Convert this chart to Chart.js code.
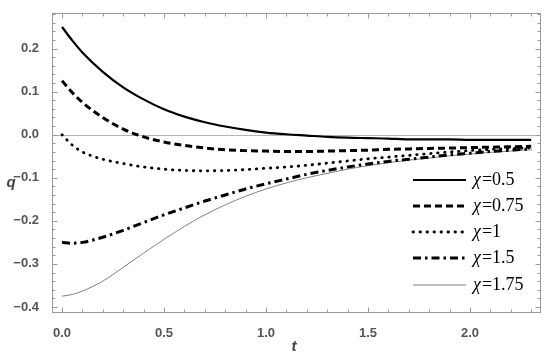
<!DOCTYPE html>
<html>
<head>
<meta charset="utf-8">
<script src="https://cdn.jsdelivr.net/npm/chart.js@4.4.1/dist/chart.umd.min.js"></script>
<style>
  html, body { margin: 0; padding: 0; background: #fff; }
</style>
</head>
<body>
<canvas id="chart" width="550" height="357"></canvas>
<script>
// values
const tValues = [0, 0.05, 0.1, 0.2, 0.3, 0.4, 0.5, 0.6, 0.7, 0.8, 0.9, 1.0, 1.1, 1.2, 1.3, 1.4, 1.5, 1.6, 1.7, 1.8, 1.9, 2.0, 2.1, 2.2, 2.3];
const qChi05  = [0.250, 0.219, 0.191, 0.146, 0.110, 0.082, 0.059, 0.042, 0.029, 0.019, 0.011, 0.005, 0.001, -0.002, -0.005, -0.007, -0.008, -0.009, -0.011, -0.011, -0.011, -0.012, -0.012, -0.012, -0.012];
const qChi075 = [0.125, 0.098, 0.075, 0.040, 0.013, -0.005, -0.017, -0.025, -0.031, -0.035, -0.037, -0.038, -0.039, -0.039, -0.038, -0.037, -0.036, -0.034, -0.033, -0.032, -0.031, -0.030, -0.029, -0.028, -0.027];
const qChi1   = [0.000, -0.024, -0.040, -0.057, -0.067, -0.075, -0.080, -0.083, -0.084, -0.083, -0.081, -0.078, -0.075, -0.071, -0.066, -0.061, -0.056, -0.052, -0.048, -0.044, -0.040, -0.037, -0.034, -0.032, -0.030];
const qChi15  = [-0.250, -0.252, -0.250, -0.238, -0.222, -0.204, -0.186, -0.170, -0.154, -0.140, -0.126, -0.114, -0.103, -0.092, -0.083, -0.075, -0.068, -0.062, -0.057, -0.052, -0.047, -0.043, -0.039, -0.036, -0.033];
const qChi175 = [-0.375, -0.371, -0.363, -0.340, -0.308, -0.275, -0.243, -0.213, -0.186, -0.163, -0.143, -0.126, -0.112, -0.100, -0.090, -0.080, -0.072, -0.065, -0.059, -0.054, -0.049, -0.045, -0.041, -0.038, -0.035];

const chiLabels = ['0.5', '0.75', '1', '1.5', '1.75'];
const xTicks = [0, 0.5, 1, 1.5, 2];
const yTicks = [-0.4, -0.3, -0.2, -0.1, 0, 0.1, 0.2];

const allSeries = [qChi05, qChi075, qChi1, qChi15, qChi175];
const lineStyles = [
    { color: '#000', width: 2.2, dash: [], cap: 'butt' },
    { color: '#000', width: 3, dash: [7, 4], cap: 'butt' },
    { color: '#000', width: 2.8, dash: [0.5, 6.5], cap: 'round' },
    { color: '#000', width: 3, dash: [8, 4, 2.5, 4], cap: 'butt' },
    { color: '#808080', width: 1, dash: [], cap: 'butt' }
];

const datasets = allSeries.map((values, i) => ({
    label: '\u03c7=' + chiLabels[i],
    data: values.map((q, k) => ({ x: tValues[k], y: q })),
    borderColor: lineStyles[i].color,
    borderWidth: lineStyles[i].width,
    borderDash: lineStyles[i].dash,
    borderCapStyle: lineStyles[i].cap,
    pointRadius: 0,
    cubicInterpolationMode: 'monotone',
    fill: false
}));

const frameColor = '#9a9a9a';
const tickFont = { family: 'Liberation Sans', size: 13, weight: 'bold' };

// zero line, frame and the inward ticks on all four sides
const framePlugin = {
    id: 'frame',
    beforeDatasetsDraw(chart) {
        const { ctx, chartArea: a, scales: { y } } = chart;
        const y0 = Math.round(y.getPixelForValue(0)) + 0.5;
        ctx.save();
        ctx.strokeStyle = '#b4b4b4';
        ctx.lineWidth = 1;
        ctx.beginPath();
        ctx.moveTo(a.left, y0);
        ctx.lineTo(a.right, y0);
        ctx.stroke();
        ctx.restore();
    },
    afterDatasetsDraw(chart) {
        const { ctx, chartArea: a, scales: { x, y } } = chart;
        ctx.save();
        ctx.strokeStyle = frameColor;
        ctx.lineWidth = 1;
        const L = Math.round(a.left) + 0.5, R = Math.round(a.right) - 0.5;
        const T = Math.round(a.top) + 0.5, B = Math.round(a.bottom) - 0.5;
        ctx.strokeRect(L, T, R - L, B - T);

        ctx.beginPath();
        for (let i = 0; i <= 23; i++) {
            const v = i / 10;
            const len = (i % 5 === 0) ? 5 : 3;
            const px = Math.round(x.getPixelForValue(v)) + 0.5;
            ctx.moveTo(px, B); ctx.lineTo(px, B - len);
            ctx.moveTo(px, T); ctx.lineTo(px, T + len);
        }
        for (let i = -20; i <= 14; i++) {
            const v = i * 0.02;
            const len = (i % 5 === 0) ? 5 : 3;
            const py = Math.round(y.getPixelForValue(v)) + 0.5;
            ctx.moveTo(L, py); ctx.lineTo(L + len, py);
            ctx.moveTo(R, py); ctx.lineTo(R - len, py);
        }
        ctx.stroke();
        ctx.restore();
    },
    afterDraw(chart) {
        const { ctx } = chart;
        ctx.save();
        // axis names
        ctx.fillStyle = '#444';
        ctx.font = 'italic bold 15px "Liberation Sans"';
        ctx.textAlign = 'center';
        ctx.textBaseline = 'middle';
        ctx.fillText('q', 11, 183);
        ctx.fillText('t', 294, 347);

        // legend
        const rowsY = [180, 206, 232, 258, 285];
        const x1 = 413, x2 = 466, tx = 473;
        chart.data.datasets.forEach((ds, i) => {
            const yy = rowsY[i];
            ctx.strokeStyle = ds.borderColor;
            ctx.lineWidth = ds.borderWidth;
            ctx.setLineDash(ds.borderDash);
            ctx.lineCap = ds.borderCapStyle;
            ctx.beginPath();
            ctx.moveTo(x1, yy);
            ctx.lineTo(x2, yy);
            ctx.stroke();
            ctx.setLineDash([]);

            ctx.fillStyle = '#000';
            ctx.textAlign = 'left';
            ctx.textBaseline = 'middle';
            ctx.font = 'italic 18px "Liberation Serif"';
            ctx.fillText('\u03c7', tx, yy);
            const w = ctx.measureText('\u03c7').width;
            ctx.font = '18px "Liberation Serif"';
            ctx.fillText('=' + chiLabels[i], tx + w + 1, yy);
        });
        ctx.restore();
    }
};

new Chart(document.getElementById('chart'), {
    type: 'line',
    data: { datasets: datasets },
    options: {
        responsive: false,
        animation: false,
        layout: { padding: { top: 10, right: 9, left: 0, bottom: 0 } },
        plugins: { legend: { display: false }, tooltip: { enabled: false } },
        scales: {
            x: {
                type: 'linear',
                min: -0.049,
                max: 2.348,
                grid: { display: false },
                border: { display: false },
                afterFit: (scale) => { scale.height = 44; },
                afterBuildTicks: (scale) => { scale.ticks = xTicks.map(v => ({ value: v })); },
                ticks: {
                    padding: 5,
                    color: '#555',
                    font: tickFont,
                    callback: (v) => v.toFixed(1)
                }
            },
            y: {
                min: -0.414,
                max: 0.283,
                grid: { display: false },
                border: { display: false },
                afterFit: (scale) => { scale.width = 52; },
                afterBuildTicks: (scale) => { scale.ticks = yTicks.map(v => ({ value: v })); },
                ticks: {
                    padding: 5,
                    color: '#555',
                    font: tickFont,
                    callback: (v) => (v < -1e-9 ? '\u2212' : '') + Math.abs(v).toFixed(1)
                }
            }
        }
    },
    plugins: [framePlugin]
});
</script>
</body>
</html>
